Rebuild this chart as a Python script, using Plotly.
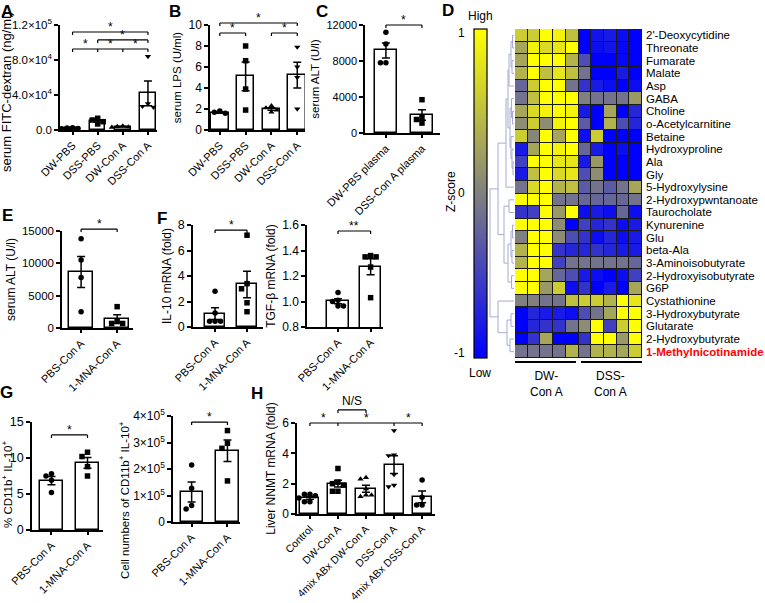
import numpy as np
import plotly.graph_objects as go

W, H = 765, 603
FONT = "Arial, Liberation Sans, sans-serif"

# ---------------- data ----------------
a_groups = ["DW-PBS", "DSS-PBS", "DW-Con A", "DSS-Con A"]
a_points = [[2500, 2200, 1800, 1500], [13400, 11400, 9500, 6900],
            [4500, 4000, 3500, 3000], [84000, 30000, 27000, 26000]]

b_groups = ["DW-PBS", "DSS-PBS", "DW-Con A", "DSS-Con A"]
b_points = [[1.8, 1.7, 1.6, 1.5], [8.0, 6.6, 3.9, 1.9],
            [2.3, 2.1, 1.9, 1.7], [7.9, 6.0, 5.0, 2.0]]

c_groups = ["DW-PBS plasma", "DSS-Con A plasma"]
c_points = [[11200, 9900, 7800, 7800], [3700, 1700, 1500, 1100]]

mna_groups = ["PBS-Con A", "1-MNA-Con A"]
e_points = [[13800, 10500, 7800, 2500], [3300, 1000, 700, 700]]
f_il10_points = [[2.8, 1.1, 0.45, 0.45, 0.45], [7.2, 3.4, 3.0, 1.9, 1.2]]
f_tgfb_points = [[1.07, 1.01, 1.0, 0.965, 0.965], [1.36, 1.35, 1.35, 1.27, 1.03]]
g_pct_points = [[7.8, 7.5, 6.9, 5.2], [10.8, 10.2, 8.8, 7.5]]
g_num_points = [[215000, 127000, 62000, 49000], [345000, 297000, 278000, 155000]]

h_groups = ["Control", "DW-Con A", "4mix ABx DW-Con A", "DSS-Con A", "4mix ABx DSS-Con A"]
h_points = [[1.3, 1.3, 1.2, 1.05, 0.8, 0.8], [3.0, 2.1, 2.0, 1.9, 1.5, 1.5],
            [2.4, 2.3, 1.65, 1.25, 1.15, 1.25], [5.5, 3.9, 3.85, 2.6, 1.9, 1.8],
            [2.24, 1.1, 0.6, 0.6]]

# significance brackets: (from, to, y level, drop ticks at, [(x, label)])
a_sig = [(0, 3, 112000, [0, 3], [(1.5, "*")]),
         (1, 3, 103000, [1, 3], [(2, "*")]),
         (0, 3, 92600, [0, 1, 2, 3], [(0.5, "*"), (1.5, "*"), (2.5, "*")])]
b_sig = [(0, 3, 10.19, [0, 3], [(1.5, "*")]),
         (0, 1, 9.24, [0, 1], [(0.5, "*")]),
         (2, 3, 9.24, [2, 3], [(2.5, "*")])]
c_sig = [(0, 1, 12000, [0, 1], [(0.5, "*")])]
e_sig = [(0, 1, 15300, [0, 1], [(0.5, "*")])]
f_il10_sig = [(0, 1, 7.6, [0, 1], [(0.5, "*")])]
f_tgfb_sig = [(0, 1, 1.553, [0, 1], [(0.5, "**")])]
g_pct_sig = [(0, 1, 13.2, [0, 1], [(0.5, "*")])]
g_num_sig = [(0, 1, 377000, [0, 1], [(0.5, "*")])]
h_sig = [(0, 4, 6.0, [0, 1, 3, 4], [(0.5, "*"), (2, "*"), (3.5, "*")]),
         (1, 2, 6.86, [1, 2], [(1.5, "N/S")])]

# heatmap (D)
metabolites = ["2'-Deoxycytidine", "Threonate", "Fumarate", "Malate", "Asp", "GABA",
               "Choline", "o-Acetylcarnitine", "Betaine", "Hydroxyproline", "Ala", "Gly",
               "5-Hydroxylysine", "2-Hydroxypwntanoate", "Taurocholate", "Kynurenine",
               "Glu", "beta-Ala", "3-Aminoisobutyrate", "2-Hydroxyisobutyrate", "G6P",
               "Cystathionine", "3-Hydroxybutyrate", "Glutarate", "2-Hydroxybutyrate",
               "1-Methylnicotinamide"]
zscores = [
    [0.6, 0.6, 1.0, 0.9, 0.5, -1.0, -0.85, -0.8, -0.9, -1.0],
    [0.3, 0.9, 0.7, 0.8, 1.0, -1.0, -0.9, -0.85, -0.95, -1.0],
    [0.3, 1.0, 1.0, 1.0, 0.4, -0.4, -1.0, -1.0, -0.95, -1.0],
    [0.4, 1.0, 0.5, 0.8, 0.5, -0.1, -1.0, -1.0, -0.8, -1.0],
    [-0.2, 0.6, 1.0, 1.0, -0.1, -0.6, -0.8, -0.9, -1.0, -0.9],
    [-0.1, 0.5, 1.0, 1.0, 1.0, 0.0, -0.1, -0.1, -0.1, 0.2],
    [0.3, 0.7, 0.9, 1.0, 0.9, -0.8, -1.0, 0.3, -1.0, -0.7],
    [0.1, 0.6, 0.1, 0.9, 1.0, -0.3, -1.0, 0.4, -0.4, -0.7],
    [0.6, 0.05, 1.0, 0.3, 1.0, -0.9, 0.6, -1.0, -1.0, -1.0],
    [-0.8, 0.3, 1.0, 0.9, 1.0, -0.2, -0.8, -1.0, -0.9, -1.0],
    [-0.5, 1.0, 1.0, 0.8, 0.8, -0.8, 0.2, -1.0, -1.0, -1.0],
    [-0.8, 0.5, 1.0, 0.7, 0.8, -0.4, 0.1, -1.0, -1.0, -1.0],
    [-0.1, 0.7, 1.0, 0.4, 0.5, -0.3, -0.1, -0.3, -0.1, 0.3],
    [1.0, 1.0, 1.0, -0.1, -0.1, -0.2, -0.2, -0.2, -0.2, -0.1],
    [-0.6, -0.5, 1.0, 0.2, 1.0, -0.9, -0.8, -0.9, -0.2, -0.9],
    [1.0, 1.0, 1.0, 0.1, -1.0, -0.5, -0.7, -0.6, -0.9, -0.8],
    [0.0, 1.0, 1.0, 0.1, -0.4, -0.6, -0.9, -0.7, -0.9, -0.8],
    [0.4, 1.0, 1.0, -0.6, -0.7, -0.7, -0.6, -0.7, -0.8, -0.8],
    [0.4, 1.0, 1.0, -0.5, -0.1, -0.1, -0.1, -0.1, -0.1, -0.2],
    [1.0, 1.0, 0.3, -0.2, -0.4, -0.8, -0.9, -1.0, -0.9, -0.5],
    [1.0, 1.0, 0.2, 0.6, -0.9, -0.6, -1.0, -0.8, -1.0, 0.3],
    [0.0, 0.0, -0.1, -0.1, 0.5, 0.6, 0.6, 0.4, 1.0, 0.8],
    [-1.0, -0.7, -0.8, -0.8, -0.9, -0.4, -0.1, 0.3, 1.0, 1.0],
    [-1.0, -0.7, -0.6, -0.6, -0.1, 0.1, 1.0, -0.5, 0.6, 1.0],
    [-1.0, -0.6, 0.3, -1.0, -1.0, -0.6, 1.0, 1.0, 0.2, 1.0],
    [-0.1, -0.1, -0.1, -0.1, 0.4, -0.1, 0.4, 0.4, 0.3, 0.6],
]
# row dendrogram as nested (height, left, right); ints are row indices
row_tree = (24,
            (16,
             (8, (6, (5, (3, (1.5, 0, 1), (2, 2, 3)), 4),
                  (4, (2.5, 5, (1.5, 6, 7)), (3, 8, (2, 9, (1, 10, 11))))), 12),
             (10, (5, 13, 14), (6, (3, (1.5, 15, 16), (2, 17, 18)), (2.5, 19, 20)))),
            (16, 21, (7, (3, 22, 23), (4, 24, 25))))


# ---------------- helpers ----------------
def px_x(l, r):
    return [l / W, r / W]


def px_y(top, bottom):
    return [1 - bottom / H, 1 - top / H]


def swarm(vals, tol, step):
    placed, offs = [], []
    for v in vals:
        for k in [0, -1, 1, -2, 2, -3, 3]:
            if all(abs(v - pv) >= tol or pk != k for pv, pk in placed):
                break
        placed.append((v, k))
        offs.append(k * step)
    return offs


annotations = []
shapes = []


def add_bar_panel(fig, n, groups, points, symbols, p):
    xa = "x" if n == 1 else f"x{n}"
    ya = "y" if n == 1 else f"y{n}"
    xs = list(range(len(groups)))
    means = [float(np.mean(v)) for v in points]
    sems = [float(np.std(v, ddof=1) / np.sqrt(len(v))) for v in points]
    fig.add_trace(go.Bar(x=xs, y=means, width=p["bw"], xaxis=xa, yaxis=ya,
                         marker=dict(color="white", line=dict(color="black", width=1.5)),
                         error_y=dict(type="data", array=sems, color="black",
                                      thickness=1.5, width=4)))
    y0, y1 = p["yr"]
    xpx0, xpx1 = p["xpx"]
    spacing_px = (xpx1 - xpx0) / (p["xr"][1] - p["xr"][0])
    for i, (vals, sym) in enumerate(zip(points, symbols)):
        offs = swarm(vals, 0.05 * (y1 - y0), 5.5 / spacing_px)
        fig.add_trace(go.Scatter(x=[i + o for o in offs], y=vals, mode="markers",
                                 xaxis=xa, yaxis=ya, cliponaxis=False,
                                 marker=dict(symbol=sym, size=5.5, color="black")))
    axis_common = dict(showline=True, linecolor="black", linewidth=1.5, ticks="outside",
                       tickwidth=1.5, tickcolor="black", showgrid=False, zeroline=False,
                       fixedrange=True, automargin=False)
    tfont = dict(size=p.get("tfs", 11.5), color="black")
    ytitle = dict(text=p["title"], font=tfont, standoff=4)
    if "title_at" in p:
        # free-standing title (sits lower than the axis centre in the original)
        tx, ty = p["title_at"]
        annotations.append(dict(x=tx / W, y=1 - ty / H, xref="paper", yref="paper",
                                text=p["title"], textangle=-90, showarrow=False,
                                xanchor="center", yanchor="middle", font=tfont))
        ytitle = dict(text="")
    key = "" if n == 1 else str(n)
    fig.update_layout({
        "xaxis" + key: dict(domain=px_x(*p["xpx"]), range=p["xr"], anchor=ya,
                            tickvals=xs, ticktext=groups, tickangle=-45, ticklen=3,
                            tickfont=dict(size=p.get("xfs", 11), color="black"),
                            **axis_common),
        "yaxis" + key: dict(domain=px_y(*p["ypx"]), range=p["yr"], anchor=xa,
                            tickvals=p["yt"], ticktext=p["ytt"], ticklen=4,
                            tickfont=dict(size=p.get("yfs", 11), color="black"),
                            title=ytitle, **axis_common),
    })
    # significance brackets
    dom_h = p["ypx"][1] - p["ypx"][0]
    drop = 3.0 / dom_h
    for x_a, x_b, lev, drops, labels in p["sig"]:
        fy = (lev - y0) / (y1 - y0)
        path = f"M{x_a},{fy} L{x_b},{fy}"
        for d in drops:
            path += f" M{d},{fy} L{d},{fy - drop}"
        shapes.append(dict(type="path", path=path, xref=xa, yref=ya + " domain",
                           line=dict(color="black", width=1.2)))
        for lx, txt in labels:
            star = txt.startswith("*")
            annotations.append(dict(x=lx, y=fy, xref=xa, yref=ya + " domain", text=txt,
                                    showarrow=False, yanchor="bottom",
                                    yshift=-4 if star else 0,
                                    font=dict(size=12, color="black")))


def tree_segments(node, xs, ys):
    if isinstance(node, int):
        return node, 0.0
    h, left, right = node
    yl, hl = tree_segments(left, xs, ys)
    yr, hr = tree_segments(right, xs, ys)
    xs.extend([hl, h, h, hr, None])
    ys.extend([yl, yl, yr, yr, None])
    return (yl + yr) / 2, h


# ---------------- figure ----------------
fig = go.Figure(layout=dict(template="none"))

add_bar_panel(fig, 1, a_groups, a_points, ["circle", "square", "triangle-up", "triangle-down"],
              dict(xpx=(60, 157), ypx=(25, 130), xr=[-0.5, 3.36], yr=[0, 120000], bw=0.62,
                   yt=[0, 40000, 80000, 120000], yfs=11.5, tfs=13, title_at=(7, 92),
                   ytt=["0.0", "4.0×10<sup>4</sup>", "8.0×10<sup>4</sup>", "1.2×10<sup>5</sup>"],
                   title="serum FITC-dextran (ng/ml)", sig=a_sig))
add_bar_panel(fig, 2, b_groups, b_points, ["circle", "square", "triangle-up", "triangle-down"],
              dict(xpx=(210, 305), ypx=(25, 130), xr=[-0.38, 3.3], yr=[0, 10], bw=0.68,
                   yt=[0, 2, 4, 6, 8, 10], ytt=["0", "2", "4", "6", "8", "10"], yfs=12,
                   title="serum LPS (U/ml)", sig=b_sig))
add_bar_panel(fig, 3, c_groups, c_points, ["circle", "square"],
              dict(xpx=(365, 440), ypx=(25, 133), xr=[-0.58, 1.5], yr=[0, 12000], bw=0.62,
                   yt=[0, 4000, 8000, 12000], ytt=["0", "4000", "8000", "12000"], yfs=11,
                   title="serum ALT (U/l)", sig=c_sig))
add_bar_panel(fig, 6, mna_groups, e_points, ["circle", "square"],
              dict(xpx=(62, 133), ypx=(231, 328), xr=[-0.53, 1.44], yr=[0, 15000], bw=0.68,
                   yt=[0, 5000, 10000, 15000], ytt=["0", "5000", "10000", "15000"],
                   yfs=11.5, tfs=12, title="serum ALT (U/l)", sig=e_sig))
add_bar_panel(fig, 7, mna_groups, f_il10_points, ["circle", "square"],
              dict(xpx=(193, 263), ypx=(225, 327), xr=[-0.69, 1.5], yr=[0, 8], bw=0.64,
                   yt=[0, 2, 4, 6, 8], ytt=["0", "2", "4", "6", "8"], yfs=12.5, tfs=12,
                   title="IL-10 mRNA (fold)", sig=f_il10_sig))
add_bar_panel(fig, 8, mna_groups, f_tgfb_points, ["circle", "square"],
              dict(xpx=(307, 383), ypx=(225, 327), xr=[-0.95, 1.38], yr=[0.8, 1.6], bw=0.65,
                   yt=[0.8, 1.0, 1.2, 1.4, 1.6], ytt=["0.8", "1.0", "1.2", "1.4", "1.6"],
                   yfs=12, tfs=12, title="TGF-β mRNA (fold)", sig=f_tgfb_sig))
add_bar_panel(fig, 9, mna_groups, g_pct_points, ["circle", "square"],
              dict(xpx=(32, 103), ypx=(422, 530), xr=[-0.54, 1.43], yr=[0, 15], bw=0.64,
                   yt=[0, 5, 10, 15], ytt=["0", "5", "10", "15"], yfs=12.5,
                   title_at=(7, 484),
                   title="% CD11b<sup>+</sup> IL-10<sup>+</sup>", sig=g_pct_sig))
add_bar_panel(fig, 10, mna_groups, g_num_points, ["circle", "square"],
              dict(xpx=(173, 240), ypx=(416, 522), xr=[-0.52, 1.35], yr=[0, 400000], bw=0.62,
                   yt=[0, 100000, 200000, 300000, 400000], yfs=12, title_at=(124, 500),
                   ytt=["0", "1×10<sup>5</sup>", "2×10<sup>5</sup>", "3×10<sup>5</sup>",
                        "4×10<sup>5</sup>"],
                   title="Cell numbers of CD11b<sup>+</sup> IL-10<sup>+</sup>", sig=g_num_sig))
add_bar_panel(fig, 11, h_groups, h_points,
              ["circle", "square", "triangle-up", "triangle-down", "circle"],
              dict(xpx=(297, 435), ypx=(423, 514), xr=[-0.46, 4.46], yr=[0, 6], bw=0.68,
                   yt=[0, 2, 4, 6], ytt=["0", "2", "4", "6"], xfs=10.5, yfs=12, tfs=12,
                   title="Liver NNMT mRNA (fold)", sig=h_sig))

# ---- D: heatmap + dendrogram ----
hm_top, hm_bot = 29, 358
fig.add_trace(go.Heatmap(z=zscores, x=list(range(10)), y=list(range(len(metabolites))),
                         coloraxis="coloraxis", xgap=1, ygap=1, xaxis="x4", yaxis="y4",
                         hoverinfo="skip"))
dx, dy = [], []
tree_segments(row_tree, dx, dy)
fig.add_trace(go.Scatter(x=dx, y=dy, mode="lines", xaxis="x5", yaxis="y5",
                         line=dict(color="#a9a9d2", width=1), hoverinfo="skip"))

fig.update_layout(
    xaxis4=dict(domain=px_x(515, 642), range=[-0.5, 9.5], anchor="y4", visible=False,
                fixedrange=True, automargin=False),
    yaxis4=dict(domain=px_y(hm_top, hm_bot), range=[len(metabolites) - 0.5, -0.5], anchor="x4",
                visible=False, fixedrange=True, automargin=False),
    xaxis5=dict(domain=px_x(489, 514), range=[25, 0], anchor="y5", visible=False,
                fixedrange=True, automargin=False),
    yaxis5=dict(domain=px_y(hm_top, hm_bot), range=[len(metabolites) - 0.5, -0.5],
                anchor="x5", visible=False, fixedrange=True, automargin=False),
    coloraxis=dict(cmin=-1, cmax=1,
                   colorscale=[[0, "#0000ff"], [0.5, "#808080"], [1, "#ffff00"]],
                   colorbar=dict(x=474 / W, xanchor="left", y=1 - hm_bot / H, yanchor="bottom",
                                 len=(hm_bot - hm_top) / H, lenmode="fraction", thickness=13,
                                 xpad=0, ypad=0, outlinewidth=1.2, outlinecolor="black",
                                 showticklabels=False, ticks="")),
)
shapes.append(dict(type="rect", xref="x4 domain", yref="y4 domain", x0=0, x1=1, y0=0, y1=1,
                   fillcolor="#1a1a1a", line=dict(width=0), layer="below"))

# metabolite names to the right of the rows
for i, name in enumerate(metabolites):
    last = i == len(metabolites) - 1
    annotations.append(dict(x=644 / W, y=i, xref="paper", yref="y4",
                            text=f"<b>{name}</b>" if last else name,
                            showarrow=False, xanchor="left", yanchor="middle",
                            font=dict(size=11.5, color="#ff0000" if last else "black")))

for g0, g1, gx, gtxt in [(-0.6, 4.3, 2, "DW-<br>Con A"), (4.7, 9.6, 7, "DSS-<br>Con A")]:
    shapes.append(dict(type="line", xref="x4", yref="paper", x0=g0, x1=g1,
                       y0=1 - 362 / H, y1=1 - 362 / H, line=dict(color="black", width=2)))
    annotations.append(dict(x=gx, y=1 - 367 / H, xref="x4", yref="paper", text=gtxt,
                            showarrow=False, yanchor="top", font=dict(size=12, color="black")))

# colorbar labels and other free text
for txt, x, y, xanchor, extra in [
        ("1", 467, 33, "right", {}), ("0", 467, 193, "right", {}), ("-1", 467, 353, "right", {}),
        ("High", 480, 16, "center", {}), ("Low", 480, 373, "center", {}),
        ("Z-score", 451, 192, "center", {"textangle": -90})]:
    annotations.append(dict(x=x / W, y=1 - y / H, xref="paper", yref="paper", text=txt,
                            showarrow=False, xanchor=xanchor, yanchor="middle",
                            font=dict(size=12, color="black"), **extra))

for letter, x, y in [("A", 7, 11), ("B", 175, 11), ("C", 322, 11), ("D", 448, 10),
                     ("E", 7, 216), ("F", 162, 218), ("G", 6, 392), ("H", 257, 393)]:
    annotations.append(dict(x=x / W, y=1 - y / H, xref="paper", yref="paper",
                            text=f"<b>{letter}</b>", showarrow=False, xanchor="center",
                            yanchor="middle", font=dict(size=17, color="black")))

fig.update_layout(width=W, height=H, margin=dict(l=0, r=0, t=0, b=0),
                  paper_bgcolor="white", plot_bgcolor="white", showlegend=False,
                  font=dict(family=FONT, color="black"), bargap=0,
                  shapes=shapes, annotations=annotations)

# page body has a default 8px margin; drop it so the figure fills the window
fig.write_html("out.html", config={"displayModeBar": False},
               post_script="document.body.style.margin='0';document.body.style.overflow='hidden';")
